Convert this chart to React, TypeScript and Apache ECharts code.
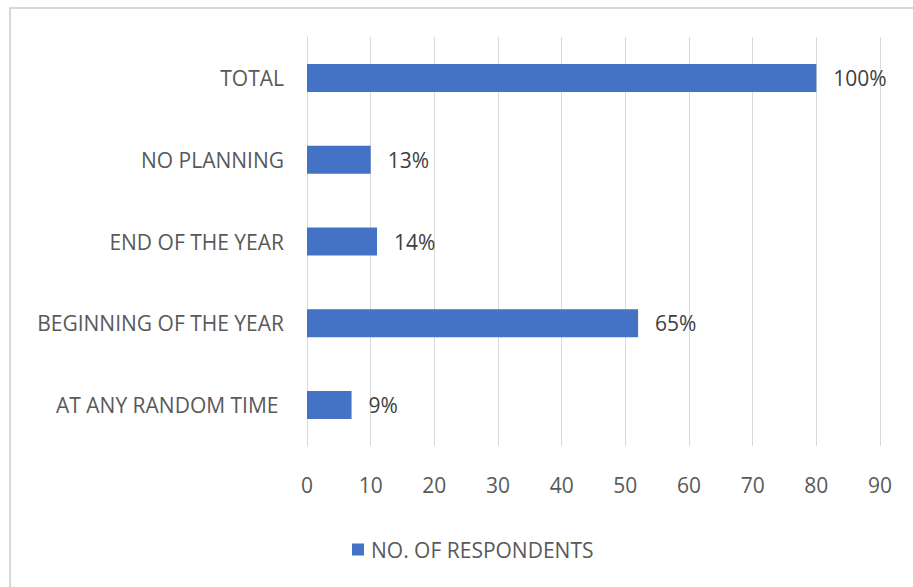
import React, { useEffect, useRef } from "react";
import * as echarts from "echarts";

const categories = ["AT ANY RANDOM TIME\u00a0", "BEGINNING OF THE YEAR", "END OF THE YEAR", "NO PLANNING", "TOTAL"];
const respondents = [7, 52, 11, 10, 80];
const percentLabels = ["9%", "65%", "14%", "13%", "100%"];
const xTicks = { min: 0, max: 90, interval: 10 };
const seriesName = "NO. OF RESPONDENTS";

const FONT = "Open Sans";
const FS = 21;

export default function App() {
  const ref = useRef<HTMLDivElement>(null);
  useEffect(() => {
    if (!ref.current) return;
    const chart = echarts.init(ref.current, null, { renderer: "svg" });
    chart.setOption({
      animation: false,
      backgroundColor: "#ffffff",
      graphic: [
        {
          type: "rect",
          shape: { x: 10, y: 8, width: 1000, height: 1000 },
          style: { fill: "none", stroke: "#d9d9d9", lineWidth: 2 },
          silent: true,
        },
      ],
      grid: { left: 307, right: 33, top: 37, bottom: 141, containLabel: false },
      legend: {
        data: [seriesName],
        left: 352,
        top: 539,
        padding: 0,
        itemWidth: 12,
        itemHeight: 12,
        itemGap: 10,
        icon: "rect",
        textStyle: { fontFamily: FONT, fontSize: FS, color: "#595959", padding: [0, 0, 0, 2] },
      },
      xAxis: {
        type: "value",
        min: xTicks.min,
        max: xTicks.max,
        interval: xTicks.interval,
        axisLine: { show: false },
        axisTick: { show: false },
        splitLine: { show: true, lineStyle: { color: "#d9d9d9", width: 1 } },
        axisLabel: { fontFamily: FONT, fontSize: FS, color: "#595959", margin: 28 },
      },
      yAxis: {
        type: "category",
        data: categories,
        axisLine: { show: true, lineStyle: { color: "#d9d9d9", width: 1 } },
        axisTick: { show: false },
        axisLabel: { fontFamily: FONT, fontSize: FS, color: "#595959", margin: 23 },
      },
      series: [
        {
          name: seriesName,
          type: "bar",
          data: respondents,
          barWidth: 28,
          itemStyle: { color: "#4472C4" },
          label: {
            show: true,
            position: "right",
            distance: 17,
            fontFamily: FONT,
            fontSize: FS,
            color: "#404040",
            formatter: (p: any) => percentLabels[p.dataIndex],
          },
        },
      ],
    });
    return () => chart.dispose();
  }, []);
  return <div ref={ref} style={{ width: 913, height: 587, position: "absolute", left: 0, top: 0 }} />;
}
